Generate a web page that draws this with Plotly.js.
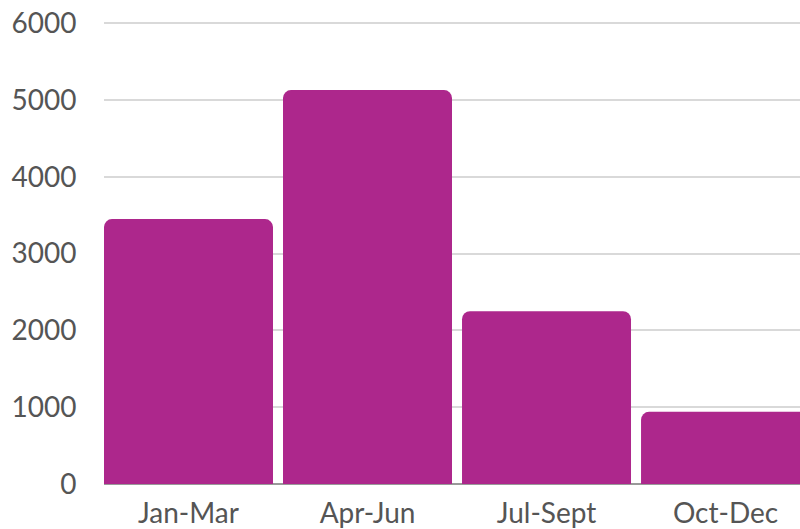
<!DOCTYPE html>
<html>
<head>
<meta charset="utf-8">
<script src="https://cdn.plot.ly/plotly-3.0.1.min.js"></script>
<style>html,body{margin:0;padding:0;background:#fff;}</style>
</head>
<body>
<div id="chart" style="width:800px;height:529px;"></div>
<script>
const categories = ["Jan-Mar", "Apr-Jun", "Jul-Sept", "Oct-Dec"];
const values = [3450, 5130, 2250, 940];
const yTicks = [0, 1000, 2000, 3000, 4000, 5000, 6000];

const trace = {
  type: "bar",
  x: categories,
  y: values,
  marker: { color: "#AD278C", cornerradius: 8 },
  hoverinfo: "none"
};

const layout = {
  width: 800,
  height: 529,
  margin: { l: 104, r: 0, t: 21, b: 45 },
  paper_bgcolor: "#fff",
  plot_bgcolor: "#fff",
  showlegend: false,
  bargap: 0.056,
  font: { family: "Lato, 'Noto Sans', sans-serif", size: 28, color: "#555" },
  xaxis: {
    type: "category",
    range: [-0.472, 3.416],
    showgrid: false,
    showline: false,
    ticks: "outside",
    ticklen: 4,
    tickcolor: "rgba(0,0,0,0)",
    tickfont: { size: 28, color: "#555" }
  },
  yaxis: {
    range: [0, 6030],
    tickvals: yTicks,
    ticktext: yTicks.map(String),
    showgrid: true,
    gridcolor: "#d9d9d9",
    gridwidth: 2,
    zeroline: true,
    zerolinecolor: "#999",
    zerolinewidth: 2,
    showline: false,
    ticks: "outside",
    ticklen: 21,
    tickcolor: "rgba(0,0,0,0)",
    tickfont: { size: 28, color: "#555" }
  }
};

Plotly.newPlot("chart", [trace], layout, { displayModeBar: false, staticPlot: true });
</script>
</body>
</html>
